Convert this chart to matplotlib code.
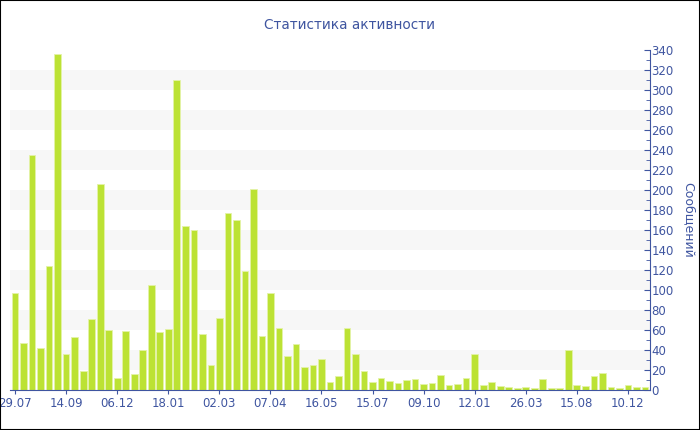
import numpy as np
import matplotlib
matplotlib.use('Agg')
import matplotlib.pyplot as plt
from matplotlib.patches import Rectangle
from matplotlib.ticker import MultipleLocator

# messages per period
values = [97, 47, 235, 42, 124, 336, 36, 53, 19, 71,
          206, 60, 12, 59, 16, 40, 105, 58, 61, 310,
          164, 160, 56, 25, 72, 177, 170, 119, 201, 54,
          97, 62, 34, 46, 23, 25, 31, 8, 14, 62,
          36, 19, 8, 12, 9, 7, 10, 11, 6, 7,
          15, 5, 6, 12, 36, 5, 8, 4, 3, 2,
          3, 2, 11, 2, 2, 40, 5, 4, 14, 17,
          3, 2, 5, 3, 3]
tick_labels = ["29.07", "14.09", "06.12", "18.01", "02.03", "07.04", "16.05",
               "15.07", "09.10", "12.01", "26.03", "15.08", "10.12"]
tick_step = 6

TXT = '#3f55a0'
BAR = '#bce234'

fig = plt.figure(figsize=(7, 4.3), dpi=100)
ax = fig.add_axes([10 / 700, 1 - 390 / 430, 640 / 700, (390 - 50.5) / 430])

x = np.arange(len(values))
ax.set_xlim(-0.6, len(values) - 0.4)
ax.set_ylim(0, 340)

# alternating bands
for lo in range(20, 340, 40):
    ax.axhspan(lo, lo + 20, color='#f7f7f7', zorder=0, lw=0)

ax.bar(x, values, width=0.78, color=BAR, edgecolor='#e4f3a8', linewidth=0.6, zorder=2)

ax.set_xticks(x[::tick_step])
ax.set_xticklabels(tick_labels)
ax.yaxis.tick_right()
ax.yaxis.set_label_position('right')
ax.yaxis.set_major_locator(MultipleLocator(20))
ax.yaxis.set_minor_locator(MultipleLocator(10))
ax.tick_params(axis='y', which='major', direction='in', length=4, color=TXT,
               labelcolor=TXT, labelsize=8.5, pad=1)
ax.tick_params(axis='y', which='minor', direction='in', length=3, color=TXT)
ax.tick_params(axis='x', direction='out', length=3, color=TXT, labelcolor=TXT,
               labelsize=8.5, pad=2)

for s in ['top', 'left']:
    ax.spines[s].set_visible(False)
ax.spines['right'].set_color(TXT)
ax.spines['bottom'].set_color(TXT)
ax.set_ylabel('Сообщений', color=TXT, fontsize=9, rotation=270, labelpad=15)

fig.text(349 / 700, 1 - 25 / 430, 'Статистика активности', ha='center', va='center',
         color=TXT, fontsize=9.8)

fig.patches.append(Rectangle((0, 0), 1, 1, transform=fig.transFigure, fill=False,
                             edgecolor='black', linewidth=1.5))

fig.savefig('out.png', dpi=100)
